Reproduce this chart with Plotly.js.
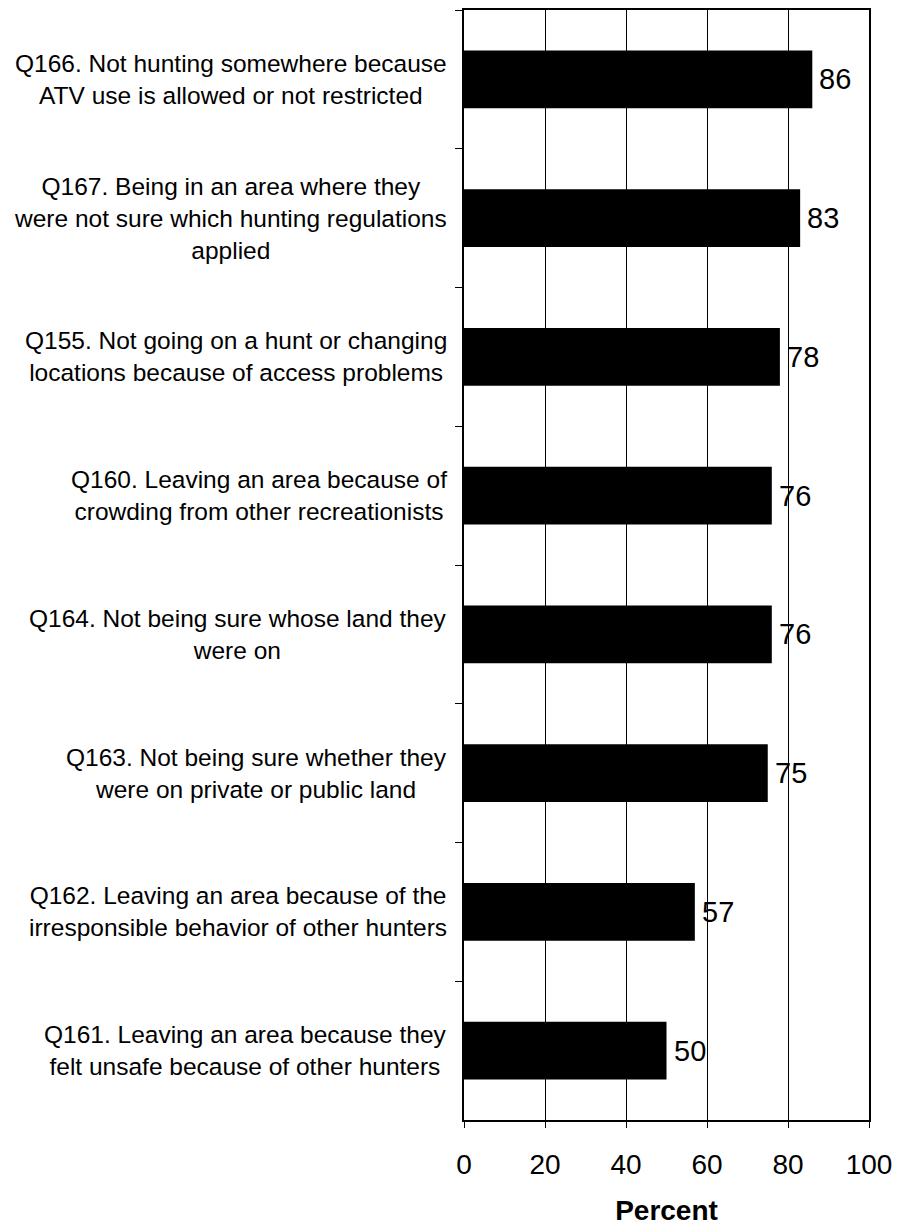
<!DOCTYPE html>
<html>
<head>
<meta charset="utf-8">
<script src="https://cdn.plot.ly/plotly-3.0.1.min.js"></script>
<style>
html,body{margin:0;padding:0;background:#fff;}
#chart{width:897px;height:1226px;}
</style>
</head>
<body>
<div id="chart"></div>
<script>
var categories = [
  "Q166. Not hunting somewhere because<br>ATV use is allowed or not restricted",
  "Q167. Being in an area where they<br>were not sure which hunting regulations<br>applied",
  "Q155. Not going on a hunt or changing<br>locations because of access problems",
  "Q160. Leaving an area because of<br>crowding from other recreationists",
  "Q164. Not being sure whose land they<br>were on",
  "Q163. Not being sure whether they<br>were on private or public land",
  "Q162. Leaving an area because of the<br>irresponsible behavior of other hunters",
  "Q161. Leaving an area because they<br>felt unsafe because of other hunters"
];
var percents = [86, 83, 78, 76, 76, 75, 57, 50];
var xTicks = [0, 20, 40, 60, 80, 100];
var xTitle = "Percent";

var FONT = "Arial, 'Liberation Sans', sans-serif";

var trace = {
  type: "bar",
  orientation: "h",
  y: categories,
  x: percents,
  marker: {color: "#000", line: {width: 0}},
  hoverinfo: "none"
};

var annotations = categories.map(function(c){
  return {
    text: c, xref: "paper", yref: "y", x: 0, y: c,
    xanchor: "right", yanchor: "middle", align: "center",
    xshift: -15, showarrow: false,
    font: {family: FONT, size: 24.5, color: "#000"}
  };
});
percents.forEach(function(v, i){
  annotations.push({
    text: String(v), xref: "x", yref: "y", x: v, y: categories[i],
    xanchor: "left", yanchor: "middle", xshift: 5, showarrow: false,
    font: {family: FONT, size: 29, color: "#000"}
  });
});

var layout = {
  width: 897, height: 1226,
  margin: {l: 464, r: 28, t: 10, b: 106, pad: 0},
  paper_bgcolor: "#fff", plot_bgcolor: "#fff",
  showlegend: false,
  bargap: 0.585,
  font: {family: FONT, color: "#000"},
  xaxis: {
    range: [0, 100], tickvals: xTicks, ticktext: xTicks.map(String),
    showgrid: true, gridcolor: "#000", gridwidth: 1,
    zeroline: false,
    showline: true, linecolor: "#000", linewidth: 2, mirror: true,
    ticks: "outside", ticklen: 6, tickwidth: 1, tickcolor: "#000",
    tickfont: {family: FONT, size: 28, color: "#000"},
    ticklabelstandoff: 12,
    title: {text: "<b>" + xTitle + "</b>", font: {family: FONT, size: 28, color: "#000"}, standoff: 28},
    fixedrange: true
  },
  yaxis: {
    type: "category", autorange: "reversed",
    showticklabels: false, showgrid: false, zeroline: false,
    showline: true, linecolor: "#000", linewidth: 2, mirror: true,
    ticks: "outside", tickson: "boundaries", ticklen: 7, tickwidth: 1, tickcolor: "#000",
    fixedrange: true
  },
  annotations: annotations
};

Plotly.newPlot("chart", [trace], layout, {staticPlot: true, displayModeBar: false});
</script>
</body>
</html>
